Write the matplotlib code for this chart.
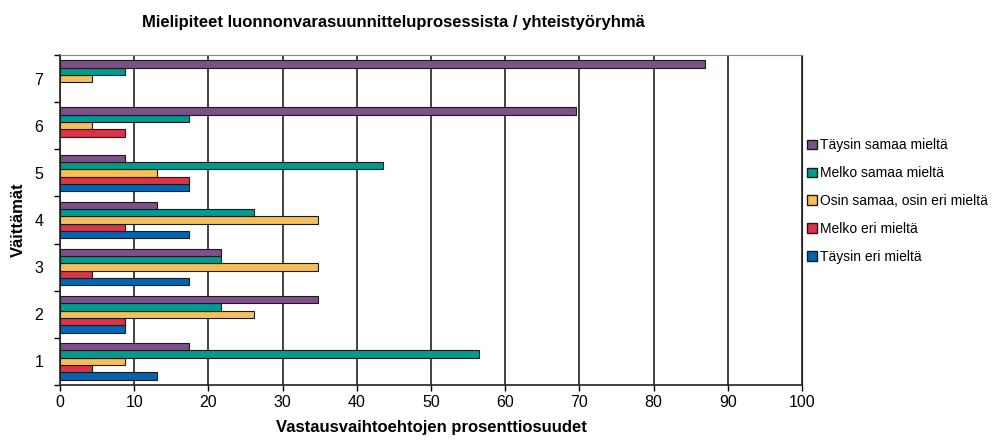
import numpy as np
import matplotlib.pyplot as plt
from matplotlib.patches import Patch

plt.rcParams['font.family'] = ['Liberation Sans', 'DejaVu Sans']

CATEGORIES = ['1', '2', '3', '4', '5', '6', '7']
SERIES = ['Täysin eri mieltä', 'Melko eri mieltä', 'Osin samaa, osin eri mieltä',
          'Melko samaa mieltä', 'Täysin samaa mieltä']
COLORS = ['#0066B3', '#D93448', '#F3C05A', '#009B8F', '#7F4F8A']

TAYSIN_ERI = [13.04, 8.70, 17.39, 17.39, 17.39, 0, 0]
MELKO_ERI = [4.35, 8.70, 4.35, 8.70, 17.39, 8.70, 0]
OSIN = [8.70, 26.09, 34.78, 34.78, 13.04, 4.35, 4.35]
MELKO_SAMAA = [56.52, 21.74, 21.74, 26.09, 43.48, 17.39, 8.70]
TAYSIN_SAMAA = [17.39, 34.78, 21.74, 13.04, 8.70, 69.57, 86.96]
VALUES = [TAYSIN_ERI, MELKO_ERI, OSIN, MELKO_SAMAA, TAYSIN_SAMAA]

fig = plt.figure(figsize=(9.97, 4.44), dpi=100)
ax = fig.add_axes([0.0602, 0.133, 0.7442, 0.743])

y = np.arange(len(CATEGORIES))
h = 0.155
for i, (vals, col) in enumerate(zip(VALUES, COLORS)):
    pos = y - 2 * h + i * h
    v = np.array(vals)
    mask = v > 0
    ax.barh(pos[mask], v[mask], height=h, color=col,
            edgecolor='#1a1a1a', linewidth=0.8, zorder=3)

ax.set_xlim(0, 100)
ax.set_ylim(-0.5, len(CATEGORIES) - 0.5)
ax.set_xticks(np.arange(0, 101, 10))
ax.set_yticks(y)
ax.set_yticklabels(CATEGORIES)
ax.set_yticks(np.arange(-0.5, len(CATEGORIES), 1), minor=True)
ax.tick_params(axis='y', which='major', length=0, labelsize=11.5, pad=12)
ax.tick_params(axis='y', which='minor', length=4, width=1, direction='out')
ax.tick_params(axis='x', which='major', length=4, width=1, labelsize=11.5, direction='out')
ax.grid(axis='x', color='#222222', linewidth=1.2, zorder=0)

for side in ['left', 'bottom']:
    ax.spines[side].set_color('#222222')
    ax.spines[side].set_linewidth(1.2)
ax.spines['top'].set_color('#888888')
ax.spines['right'].set_color('#222222')

fig.text(0.395, 0.95, 'Mielipiteet luonnonvarasuunnitteluprosessista / yhteistyöryhmä',
         fontsize=12, fontweight='bold', ha='center', va='center')
ax.set_xlabel('Vastausvaihtoehtojen prosenttiosuudet', fontsize=12,
              fontweight='bold', labelpad=7)
ax.set_ylabel('Väittämät', fontsize=12, fontweight='bold', labelpad=6)

handles = [Patch(facecolor=c, edgecolor='#1a1a1a', label=s)
           for s, c in zip(SERIES, COLORS)][::-1]
fig.legend(handles=handles, loc='center left', bbox_to_anchor=(0.797, 0.547),
           frameon=False, fontsize=10, handlelength=0.7, handleheight=0.7,
           handletextpad=0.25, labelspacing=1.0)

fig.savefig('out.png', dpi=100)
